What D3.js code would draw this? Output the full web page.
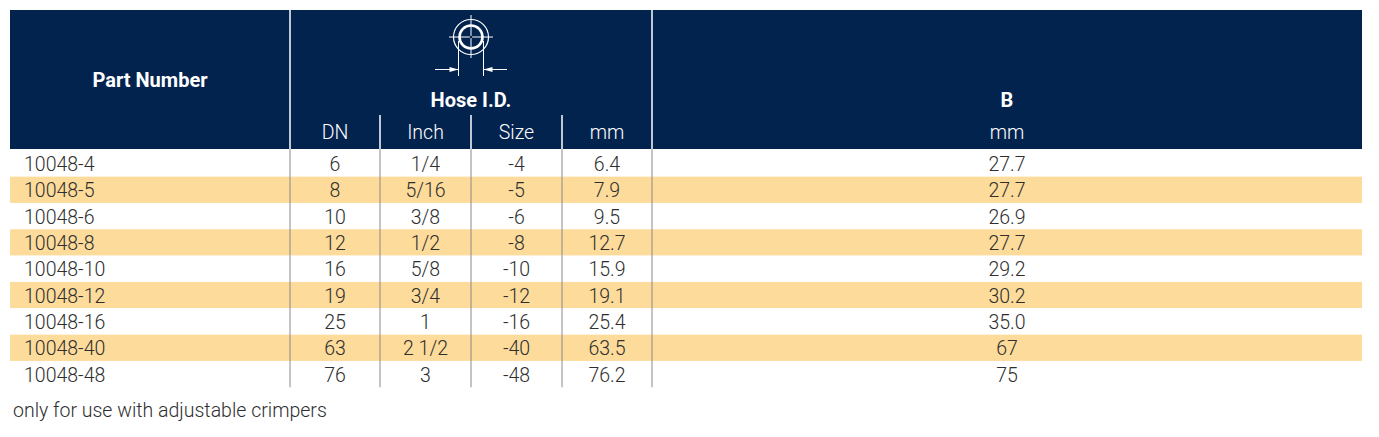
<!DOCTYPE html>
<html lang="en">
<head>
    <meta charset="UTF-8">
    <title>Hose I.D. table</title>
    <style>
        body { margin: 0; background: #fff; }
        svg { display: block; font-family: Roboto, "Liberation Sans", Arial, sans-serif; }
    </style>
</head>
<body>
    <div id="chart"></div>

    <script src="https://d3js.org/d3.v7.min.js"></script>
    <script>
        // table data
        const partNumbers = ['10048-4', '10048-5', '10048-6', '10048-8', '10048-10', '10048-12', '10048-16', '10048-40', '10048-48'];
        const dn = ['6', '8', '10', '12', '16', '19', '25', '63', '76'];
        const inch = ['1/4', '5/16', '3/8', '1/2', '5/8', '3/4', '1', '2 1/2', '3'];
        const size = ['-4', '-5', '-6', '-8', '-10', '-12', '-16', '-40', '-48'];
        const hoseMm = ['6.4', '7.9', '9.5', '12.7', '15.9', '19.1', '25.4', '63.5', '76.2'];
        const bMm = ['27.7', '27.7', '26.9', '27.7', '29.2', '30.2', '35.0', '67', '75'];
        const subHeaders = ['DN', 'Inch', 'Size', 'mm'];
        const footnote = 'only for use with adjustable crimpers';

        const w = 1379;
        const h = 437;
        const left = 10, right = 1362;
        const headTop = 10, headBottom = 149;
        const rowTop = 150.3, bodyBottom = 387.3;
        const navy = '#03234f';
        const stripe = '#fddb9b';

        // column edges: part | DN | Inch | Size | mm | B
        const edges = [left, 290, 380, 471, 562, 652, right];
        const colCenter = i => (edges[i] + edges[i + 1]) / 2;

        const y = d3.scaleBand()
            .domain(partNumbers)
            .range([rowTop, bodyBottom])
            .paddingInner(0);

        const svg = d3.select('#chart')
            .append('svg')
            .attr('width', w)
            .attr('height', h);

        // striped rows
        svg.selectAll('rect.row')
            .data(partNumbers)
            .enter()
            .append('rect')
            .attr('class', 'row')
            .attr('x', left)
            .attr('y', d => y(d))
            .attr('width', right - left)
            .attr('height', y.bandwidth())
            .attr('fill', (d, i) => i % 2 ? stripe : '#fff');

        // header block
        svg.append('rect')
            .attr('x', left)
            .attr('y', headTop)
            .attr('width', right - left)
            .attr('height', headBottom - headTop)
            .attr('fill', navy);

        // body column lines
        svg.selectAll('line.body')
            .data(edges.slice(1, -1))
            .enter()
            .append('line')
            .attr('class', 'body')
            .attr('x1', d => d).attr('x2', d => d)
            .attr('y1', headBottom).attr('y2', bodyBottom)
            .attr('stroke', '#8a8a8a')
            .attr('stroke-width', 1);

        // header separators
        svg.selectAll('line.main')
            .data([edges[1], edges[5]])
            .enter()
            .append('line')
            .attr('x1', d => d).attr('x2', d => d)
            .attr('y1', headTop).attr('y2', headBottom)
            .attr('stroke', '#fff')
            .attr('stroke-width', 1.5);

        svg.selectAll('line.sub')
            .data(edges.slice(2, 5))
            .enter()
            .append('line')
            .attr('x1', d => d).attr('x2', d => d)
            .attr('y1', 115).attr('y2', headBottom)
            .attr('stroke', '#fff')
            .attr('stroke-width', 1.5);

        // header texts
        const head = svg.append('g')
            .attr('fill', '#fff')
            .attr('font-size', 20)
            .attr('text-anchor', 'middle');

        head.append('text')
            .attr('x', (edges[0] + edges[1]) / 2).attr('y', 87)
            .attr('font-weight', 'bold')
            .text('Part Number');

        head.append('text')
            .attr('x', (edges[1] + edges[5]) / 2).attr('y', 107)
            .attr('font-weight', 'bold')
            .text('Hose I.D.');

        head.append('text')
            .attr('x', colCenter(5)).attr('y', 107)
            .attr('font-weight', 'bold')
            .text('B');

        head.append('text')
            .attr('x', colCenter(5)).attr('y', 139)
            .attr('font-size', 19.5)
            .attr('font-weight', 300)
            .text('mm');

        head.selectAll('text.sub')
            .data(subHeaders)
            .enter()
            .append('text')
            .attr('class', 'sub')
            .attr('x', (d, i) => colCenter(i + 1))
            .attr('y', 139)
            .attr('font-size', 19.5)
            .attr('font-weight', 300)
            .text(d => d);

        // hose I.D. symbol
        const cx = (edges[1] + edges[5]) / 2, cy = 37;
        const icon = svg.append('g')
            .attr('stroke', '#fff')
            .attr('fill', 'none');
        icon.append('circle').attr('cx', cx).attr('cy', cy).attr('r', 17.5).attr('stroke-width', 1.2);
        icon.append('circle').attr('cx', cx).attr('cy', cy).attr('r', 11.5).attr('stroke-width', 2.6);
        icon.append('line').attr('x1', cx).attr('x2', cx).attr('y1', 15).attr('y2', 58).attr('stroke-width', 1);
        icon.append('line').attr('x1', cx - 22).attr('x2', cx + 22).attr('y1', cy).attr('y2', cy).attr('stroke-width', 1);
        icon.append('line').attr('x1', cx - 12.5).attr('x2', cx - 12.5).attr('y1', cy + 4).attr('y2', 76).attr('stroke-width', 1);
        icon.append('line').attr('x1', cx + 12.5).attr('x2', cx + 12.5).attr('y1', cy + 4).attr('y2', 76).attr('stroke-width', 1);
        icon.append('line').attr('x1', cx - 36).attr('x2', cx - 12.5).attr('y1', 69.5).attr('y2', 69.5).attr('stroke-width', 1);
        icon.append('line').attr('x1', cx + 12.5).attr('x2', cx + 36).attr('y1', 69.5).attr('y2', 69.5).attr('stroke-width', 1);
        icon.append('path')
            .attr('d', `M${cx - 12.5},69.5 l-9,-2.5 l0,5 z M${cx + 12.5},69.5 l9,-2.5 l0,5 z`)
            .attr('fill', '#fff')
            .attr('stroke', 'none');
        icon.append('circle').attr('cx', cx).attr('cy', cy).attr('r', 1.3).attr('fill', navy).attr('stroke', 'none');

        // body texts
        const columns = [dn, inch, size, hoseMm, bMm];
        const body = svg.append('g')
            .attr('fill', '#2e2e2e')
            .attr('font-size', 19.5)
            .attr('font-weight', 300);

        body.selectAll('text.part')
            .data(partNumbers)
            .enter()
            .append('text')
            .attr('x', 24)
            .attr('y', d => y(d) + y.bandwidth() / 2)
            .attr('dy', '0.38em')
            .text(d => d);

        columns.forEach((col, c) => {
            body.selectAll('text.c' + c)
                .data(col)
                .enter()
                .append('text')
                .attr('class', 'c' + c)
                .attr('text-anchor', 'middle')
                .attr('x', colCenter(c + 1))
                .attr('y', (d, i) => y(partNumbers[i]) + y.bandwidth() / 2)
                .attr('dy', '0.38em')
                .text(d => d);
        });

        svg.append('text')
            .attr('x', 13).attr('y', 417)
            .attr('fill', '#2e2e2e')
            .attr('font-size', 19.5)
            .attr('font-weight', 300)
            .text(footnote);
    </script>
</body>
</html>
